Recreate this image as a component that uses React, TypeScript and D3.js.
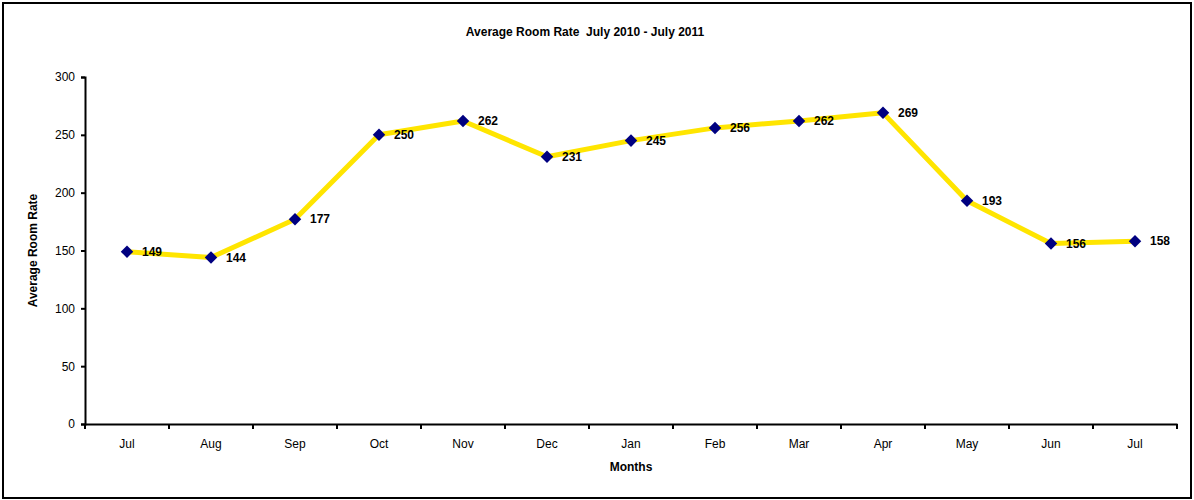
import React, { useEffect, useRef } from "react";
import * as d3 from "d3";

const months = ["Jul", "Aug", "Sep", "Oct", "Nov", "Dec", "Jan", "Feb", "Mar", "Apr", "May", "Jun", "Jul"];
const rates = [149, 144, 177, 250, 262, 231, 245, 256, 262, 269, 193, 156, 158];
const yTicks = [0, 50, 100, 150, 200, 250, 300];

const width = 1194;
const height = 500;
const margin = { top: 77, right: 17, bottom: 76, left: 85 };

export default function App() {
  const ref = useRef<SVGSVGElement>(null);

  useEffect(() => {
    const svg = d3.select(ref.current);
    svg.selectAll("*").remove();
    const font = "'Liberation Sans', Arial, sans-serif";

    // chart frame
    svg.append("rect")
      .attr("x", 3).attr("y", 3)
      .attr("width", width - 6).attr("height", height - 5)
      .attr("fill", "none").attr("stroke", "#000").attr("stroke-width", 2);

    // months repeat (Jul twice) so band on index
    const x = d3.scaleBand<number>()
      .domain(months.map((_, i) => i))
      .range([margin.left, width - margin.right]);
    const y = d3.scaleLinear()
      .domain([0, 300])
      .range([height - margin.bottom, margin.top]);

    svg.append("text")
      .attr("x", (margin.left + width - margin.right) / 2 - 46)
      .attr("y", 36)
      .attr("text-anchor", "middle")
      .attr("font-family", font).attr("font-size", 12).attr("font-weight", "bold")
      .style("white-space", "pre")
      .text("Average Room Rate  July 2010 - July 2011");

    const yAxis = svg.append("g")
      .attr("transform", `translate(${margin.left},0)`)
      .call(d3.axisLeft(y).tickValues(yTicks).tickSize(4).tickPadding(6));
    yAxis.select(".domain").attr("stroke-width", 2);
    yAxis.selectAll(".tick line").attr("stroke-width", 2);
    yAxis.selectAll(".tick text").attr("font-family", font).attr("font-size", 12).attr("fill", "black");

    const xAxis = svg.append("g")
      .attr("transform", `translate(0,${height - margin.bottom})`)
      .call(d3.axisBottom(x).tickFormat((i) => months[i as number]).tickSize(0).tickPadding(15));
    xAxis.select(".domain").attr("stroke-width", 2);
    xAxis.selectAll(".tick text").attr("font-family", font).attr("font-size", 12).attr("fill", "black");

    svg.append("g").selectAll("line")
      .data(d3.range(months.length + 1))
      .enter().append("line")
      .attr("x1", (i) => margin.left + i * x.step())
      .attr("x2", (i) => margin.left + i * x.step())
      .attr("y1", height - margin.bottom)
      .attr("y2", height - margin.bottom + 5)
      .attr("stroke", "black").attr("stroke-width", 2);

    svg.append("text")
      .attr("x", (margin.left + width - margin.right) / 2)
      .attr("y", 471)
      .attr("text-anchor", "middle")
      .attr("font-family", font).attr("font-size", 12).attr("font-weight", "bold")
      .text("Months");

    svg.append("text")
      .attr("transform", `translate(37,${(height - margin.bottom + margin.top) / 2}) rotate(-90)`)
      .attr("text-anchor", "middle")
      .attr("font-family", font).attr("font-size", 12).attr("font-weight", "bold")
      .text("Average Room Rate");

    const cx = (i: number) => (x(i) as number) + x.bandwidth() / 2;

    const line = d3.line<number>()
      .x((_, i) => cx(i))
      .y((d) => y(d));

    svg.append("path")
      .datum(rates)
      .attr("d", line)
      .attr("fill", "none")
      .attr("stroke", "#FFE500")
      .attr("stroke-width", 5)
      .attr("stroke-linejoin", "round");

    svg.append("g").selectAll("path")
      .data(rates)
      .enter().append("path")
      .attr("d", d3.symbol().type(d3.symbolDiamond2).size(100))
      .attr("transform", (d, i) => `translate(${cx(i)},${y(d)})`)
      .attr("fill", "#000080");

    svg.append("g").selectAll("text")
      .data(rates)
      .enter().append("text")
      .attr("x", (_, i) => cx(i) + 15)
      .attr("y", (d) => y(d))
      .attr("dy", "0.35em")
      .attr("font-family", font).attr("font-size", 12).attr("font-weight", "bold")
      .text((d) => d);
  }, []);

  return (
    <svg
      ref={ref}
      width={width}
      height={height}
      style={{ display: "block", position: "absolute", left: 0, top: 0, background: "white" }}
    />
  );
}
